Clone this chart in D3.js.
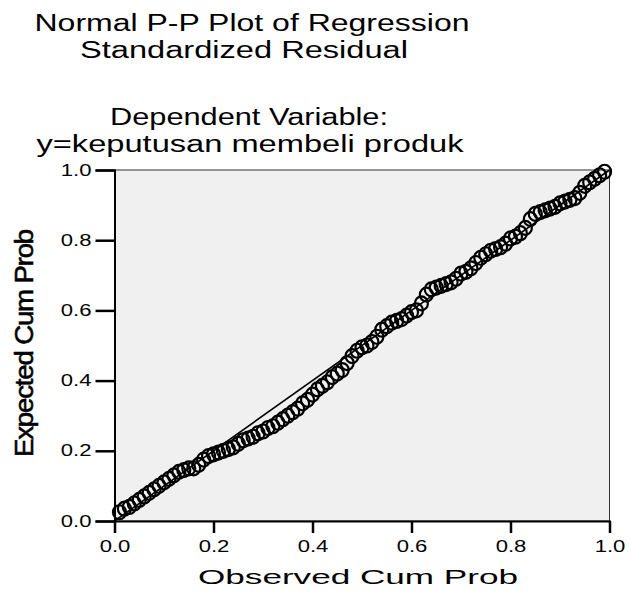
<!DOCTYPE html>
<html>
<head>
<meta charset="utf-8">
<script src="https://d3js.org/d3.v7.min.js"></script>
<style>
  body { margin: 0; background: #fff; }
  text { font-family: "Liberation Sans", Arial, sans-serif; fill: #000; }
  .axis path, .axis line { stroke: #000; }
  .axis text { font-size: 16px; }
</style>
</head>
<body>
<svg width="630" height="599"></svg>
<script>
// title lines
var titleLines = ["Normal P-P Plot of Regression", "Standardized Residual", "Dependent Variable:", "y=keputusan membeli produk"];
var xTitle = "Observed Cum Prob";
var yTitle = "Expected Cum Prob";
var tickVals = [0.0, 0.2, 0.4, 0.6, 0.8, 1.0];

// observed cum prob (x) and expected cum prob (y)
var observed = [0.01,0.02,0.03,0.04,0.05,0.06,0.07,0.08,0.09,0.10,
                0.11,0.12,0.13,0.14,0.15,0.16,0.17,0.18,0.19,0.20,
                0.21,0.22,0.23,0.24,0.25,0.26,0.27,0.28,0.29,0.30,
                0.31,0.32,0.33,0.34,0.35,0.36,0.37,0.38,0.39,0.40,
                0.41,0.42,0.43,0.44,0.45,0.46,0.47,0.48,0.49,0.50,
                0.51,0.52,0.53,0.54,0.55,0.56,0.57,0.58,0.59,0.60,
                0.61,0.62,0.63,0.64,0.65,0.66,0.67,0.68,0.69,0.70,
                0.71,0.72,0.73,0.74,0.75,0.76,0.77,0.78,0.79,0.80,
                0.81,0.82,0.83,0.84,0.85,0.86,0.87,0.88,0.89,0.90,
                0.91,0.92,0.93,0.94,0.95,0.96,0.97,0.98,0.99];
var expected = [0.025,0.035,0.04,0.05,0.06,0.07,0.08,0.09,0.10,0.11,
                0.12,0.13,0.14,0.145,0.15,0.15,0.16,0.175,0.185,0.19,
                0.195,0.20,0.205,0.21,0.22,0.23,0.235,0.24,0.25,0.255,
                0.265,0.27,0.28,0.29,0.30,0.31,0.32,0.335,0.345,0.36,
                0.375,0.385,0.395,0.41,0.42,0.43,0.45,0.47,0.485,0.495,
                0.50,0.51,0.525,0.545,0.555,0.565,0.57,0.575,0.585,0.595,
                0.60,0.62,0.645,0.66,0.665,0.67,0.675,0.68,0.69,0.705,
                0.71,0.72,0.735,0.75,0.76,0.77,0.775,0.78,0.79,0.805,
                0.81,0.82,0.835,0.86,0.875,0.88,0.885,0.89,0.895,0.905,
                0.91,0.915,0.92,0.935,0.955,0.965,0.975,0.985,0.995];

var svg = d3.select('svg');
var margin = {top: 170, right: 20.5, bottom: 78, left: 114.5};
var width = +svg.attr('width') - margin.left - margin.right;
var height = +svg.attr('height') - margin.top - margin.bottom;
var stretch = 1.38; // the source picture is drawn wider than tall

var x = d3.scaleLinear().domain([0, 1]).range([0, width]);
var y = d3.scaleLinear().domain([0, 1]).range([height, 0]);

var g = svg.append('g')
  .attr('transform', 'translate(' + margin.left + ',' + margin.top + ')');

// plot background
g.append('rect')
  .attr('width', width)
  .attr('height', height)
  .attr('fill', '#f0f0f0')
  .attr('stroke', '#333')
  .attr('stroke-width', 1);

// reference diagonal
g.append('line')
  .attr('x1', x(0)).attr('y1', y(0))
  .attr('x2', x(1)).attr('y2', y(1))
  .attr('stroke', '#000')
  .attr('stroke-width', 1.6);

// points
var pts = observed.map(function(d, i) { return {o: d, e: expected[i]}; });
g.selectAll('ellipse.pt').data(pts)
  .enter().append('ellipse')
  .attr('class', 'pt')
  .attr('cx', function(d) { return x(d.o); })
  .attr('cy', function(d) { return y(d.e); })
  .attr('rx', 6.5)
  .attr('ry', 7)
  .attr('fill', 'none')
  .attr('stroke', '#000')
  .attr('stroke-width', 2.2);

// axes
var xAxis = d3.axisBottom(x).tickValues(tickVals).tickSize(12).tickPadding(8).tickFormat(d3.format('.1f'));
var yAxis = d3.axisLeft(y).tickValues(tickVals).tickSize(19).tickPadding(4).tickFormat(d3.format('.1f'));

var gx = g.append('g')
  .attr('class', 'axis')
  .attr('transform', 'translate(0,' + height + ')')
  .call(xAxis);
gx.select('.domain').attr('stroke-width', 2);
gx.selectAll('.tick line').attr('stroke-width', 2.5);

var gy = g.append('g')
  .attr('class', 'axis')
  .call(yAxis);
gy.select('.domain').attr('stroke-width', 2);
gy.selectAll('.tick line').attr('stroke-width', 2.5);

// widen tick labels like the source
svg.selectAll('.axis text').each(function() {
  var w = this.getComputedTextLength();
  d3.select(this)
    .attr('textLength', w * stretch)
    .attr('lengthAdjust', 'spacingAndGlyphs');
});

// titles
var titleX = [252, 244, 249, 250];
var titleY = [31, 58, 125, 152];
var titleW = [435, 328, 278, 427];
titleLines.forEach(function(t, i) {
  svg.append('text')
    .attr('x', titleX[i])
    .attr('y', titleY[i])
    .attr('text-anchor', 'middle')
    .style('font-size', '23px')
    .attr('textLength', titleW[i])
    .attr('lengthAdjust', 'spacingAndGlyphs')
    .text(t);
});

svg.append('text')
  .attr('x', 358)
  .attr('y', 584)
  .attr('text-anchor', 'middle')
  .style('font-size', '21px')
  .attr('textLength', 320)
  .attr('lengthAdjust', 'spacingAndGlyphs')
  .text(xTitle);

// y title: condensed and heavy in the source
svg.append('text')
  .attr('transform', 'translate(33,' + (margin.top + height / 2 - 2) + ') scale(1.12,1) rotate(-90)')
  .attr('text-anchor', 'middle')
  .style('font-size', '23px')
  .style('letter-spacing', '-1px')
  .attr('stroke', '#000')
  .attr('stroke-width', 0.5)
  .attr('textLength', 227)
  .attr('lengthAdjust', 'spacingAndGlyphs')
  .text(yTitle);
</script>
</body>
</html>
